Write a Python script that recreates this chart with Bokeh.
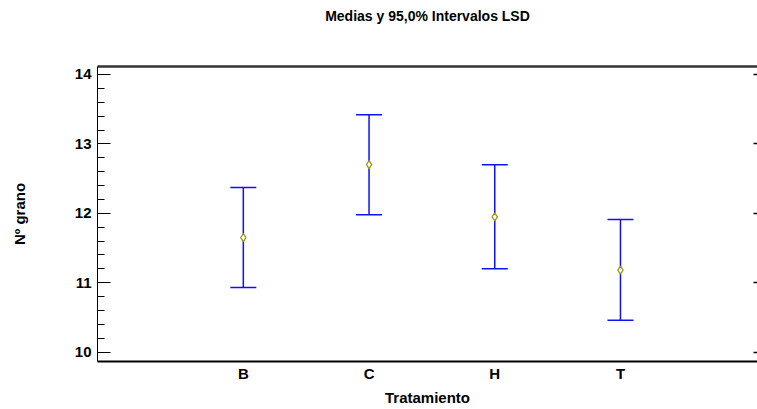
from bokeh.plotting import figure
from bokeh.models import (Range1d, LinearAxis, SingleIntervalTicker, FixedTicker,
                          Whisker, TeeHead, ColumnDataSource)
from bokeh.embed import file_html
from bokeh.resources import INLINE

# ---- data ----
categories = ["B", "C", "H", "T"]
positions = [1, 2, 3, 4]
means = [11.65, 12.70, 11.95, 11.18]
lower = [10.93, 11.98, 11.20, 10.46]
upper = [12.37, 13.42, 12.70, 11.91]
y_ticks = [10, 11, 12, 13, 14]

title_text = "Medias y 95,0% Intervalos LSD"
x_label = "Tratamiento"
y_label = "Nº grano"

FONT = "Liberation Sans"
BLUE = "#1010ff"
OLIVE = "#9c9a1c"
TXT = "#000000"

src = ColumnDataSource(dict(x=positions, mean=means, lo=lower, hi=upper))

p = figure(width=757, height=409, output_backend="svg", toolbar_location=None,
           x_range=Range1d(-0.16, 5.09), y_range=Range1d(9.865, 14.115),
           min_border_left=97, min_border_top=66,
           min_border_bottom=48, min_border_right=0,
           x_axis_location=None, y_axis_location=None)

p.outline_line_color = None
p.grid.visible = False
p.background_fill_color = "white"
p.border_fill_color = "white"

# left axis
yl = LinearAxis(ticker=SingleIntervalTicker(interval=1, num_minor_ticks=5),
                axis_label=y_label)
yl.axis_line_color = "black"
yl.axis_line_width = 1
yl.major_tick_in = 13
yl.major_tick_out = 0
yl.minor_tick_in = 7
yl.minor_tick_out = 0
yl.major_tick_line_color = "black"
yl.minor_tick_line_color = "black"
yl.major_label_text_font = FONT
yl.major_label_text_font_size = "15px"
yl.major_label_text_font_style = "bold"
yl.major_label_text_color = TXT
yl.major_label_standoff = 6
yl.axis_label_text_font = FONT
yl.axis_label_text_font_size = "15px"
yl.axis_label_text_font_style = "bold"
yl.axis_label_text_color = TXT
yl.axis_label_standoff = 44
p.add_layout(yl, "left")

# bottom axis
xb = LinearAxis(ticker=FixedTicker(ticks=positions), axis_label=x_label,
                major_label_overrides={pos: c for pos, c in zip(positions, categories)})
xb.axis_line_color = "black"
xb.axis_line_width = 2
xb.major_tick_line_color = None
xb.minor_tick_line_color = None
xb.major_tick_in = 0
xb.major_tick_out = 0
xb.major_label_text_font = FONT
xb.major_label_text_font_size = "15px"
xb.major_label_text_font_style = "bold"
xb.major_label_text_color = TXT
xb.major_label_standoff = 3
xb.axis_label_text_font = FONT
xb.axis_label_text_font_size = "15px"
xb.axis_label_text_font_style = "bold"
xb.axis_label_text_color = TXT
xb.axis_label_standoff = 4
p.add_layout(xb, "below")

# top border carrying the chart title
xt = LinearAxis(ticker=FixedTicker(ticks=[]), axis_label=title_text)
xt.axis_line_color = "#333333"
xt.axis_line_width = 2.5
xt.major_tick_line_color = None
xt.minor_tick_line_color = None
xt.major_tick_in = 0
xt.major_tick_out = 0
xt.major_label_standoff = 0
xt.axis_label_text_font = FONT
xt.axis_label_text_font_size = "14px"
xt.axis_label_text_font_style = "bold"
xt.axis_label_text_color = TXT
xt.axis_label_standoff = 43
p.add_layout(xt, "above")

# right axis (ticks only)
yr = LinearAxis(ticker=FixedTicker(ticks=y_ticks),
                major_label_overrides={t: "" for t in y_ticks})
yr.axis_line_color = None
yr.major_tick_in = 4
yr.major_tick_out = 0
yr.major_tick_line_color = "black"
yr.major_tick_line_width = 1.5
yr.minor_tick_line_color = None
yr.major_label_standoff = 0
p.add_layout(yr, "right")

# error bars
w = Whisker(source=src, base="x", lower="lo", upper="hi", dimension="height",
            line_color=BLUE, line_width=1.5,
            upper_head=TeeHead(size=26, line_color=BLUE, line_width=1.5),
            lower_head=TeeHead(size=26, line_color=BLUE, line_width=1.5))
p.add_layout(w)

p.scatter("x", "mean", source=src, marker="diamond", size=8,
          line_color=OLIVE, line_width=1.3, fill_color="white")

open("out.html", "w").write(file_html(p, INLINE))
